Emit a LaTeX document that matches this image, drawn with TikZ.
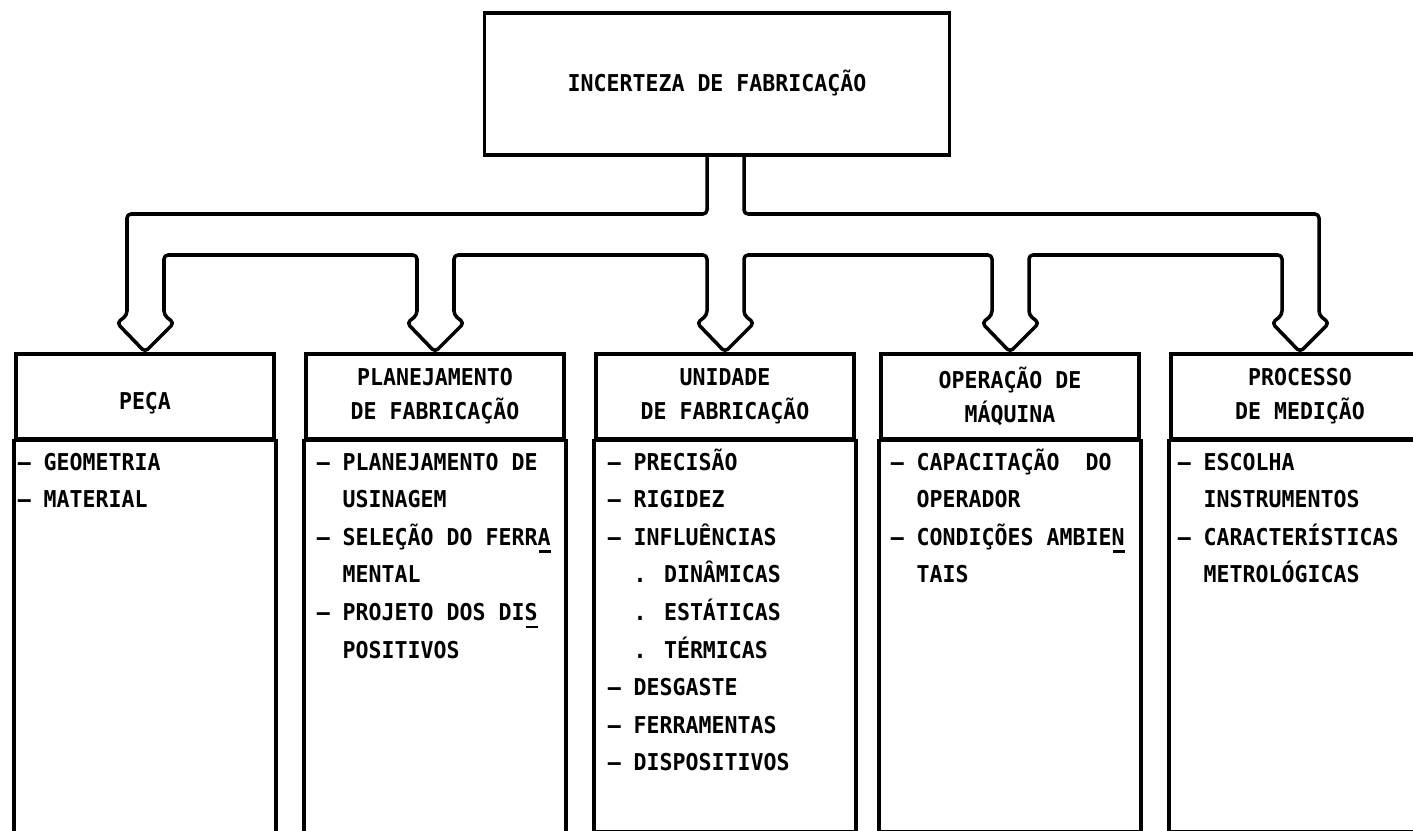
\documentclass[tikz,border=0pt]{standalone}
\usepackage{fontspec}
\usetikzlibrary{calc}
\newfontfamily\letra{DejaVu Sans Mono}[FakeStretch=0.93]
\newcommand\recuo{\hphantom{–\ }}
\newcommand\hifen[1]{\rlap{\hspace{0.06em}\rule[-4.5pt]{0.5em}{1.5pt}}#1}

\begin{document}
\begin{tikzpicture}[x=0.2mm, y=-0.2mm, line width=2pt,
    texto/.style={font=\letra\bfseries\fontsize{13.2pt}{19.3pt}\selectfont},
    caixa/.style={texto, draw, anchor=north, align=center, inner sep=0pt, minimum width=51.6mm, minimum height=17mm,
        execute at begin node=\rule{0pt}{17.5pt}},
    item/.style={texto, anchor=base west, inner sep=0pt},
    tubo/.style={line join=round, rounded corners=0.8mm},
    seta/.style={insert path={-- ($(#1.north)+(-18,-37)$) -- ($(#1.north)+(-28,-29)$) -- (#1.north)
        -- ($(#1.north)+(29,-29)$) -- ($(#1.north)+(19,-37)$)}}]
    \clip (0,0) rectangle (1413,831);
    \fill[white] (0,0) rectangle (1413,831);

    \node[caixa, anchor=center, minimum width=93mm, minimum height=28.4mm,
        execute at begin node={\rule[-9.5pt]{0pt}{1pt}}] (topo) at (717,84) {INCERTEZA DE FABRICAÇÃO};

    \node[caixa] (peca) at (145,352) {PEÇA};
    \node[caixa] (plan) at (435,352) {PLANEJAMENTO\\DE FABRICAÇÃO};
    \node[caixa] (unid) at (725,352) {UNIDADE\\DE FABRICAÇÃO};
    \node[caixa] (oper) at (1010,352) {OPERAÇÃO DE\\MÁQUINA};
    \node[caixa] (proc) at (1300,352) {PROCESSO\\DE MEDIÇÃO};

    \draw (peca.south west) rectangle ($(peca.south east)+(0,420)$);
    \draw (plan.south west) rectangle ($(plan.south east)+(0,420)$);
    \draw (unid.south west) rectangle ($(unid.south east)+(0,391)$);
    \draw (oper.south west) rectangle ($(oper.south east)+(0,391)$);
    \draw (proc.south west) rectangle ($(proc.south east)+(0,391)$);

    % seta dupla
    \coordinate (hE) at ($(unid.north)+(-18,0)$);
    \coordinate (hD) at ($(unid.north)+(19,0)$);
    \draw[tubo] (hE |- topo.south) |- ($(peca.north)+(-18,-138)$) [seta=peca]
        |- ($(plan.north)+(-18,-97)$) [seta=plan]
        |- ($(unid.north)+(-18,-97)$) [seta=unid]
        |- ($(oper.north)+(-18,-97)$) [seta=oper]
        |- ($(proc.north)+(-18,-97)$) [seta=proc]
        |- ($(hD)+(0,-138)$) -- (hD |- topo.south);

    % itens
    \foreach \t [count=\i] in {– GEOMETRIA, – MATERIAL}
        \node[item] (peca-\i) at (16,{470+37.6*(\i-1)}) {\t};
    \foreach \t [count=\i] in {– PLANEJAMENTO DE, \recuo USINAGEM, – SELEÇÃO DO FERR\hifen{A},
            \recuo MENTAL, – PROJETO DOS DI\hifen{S}, \recuo POSITIVOS}
        \node[item] (plan-\i) at (315,{470+37.6*(\i-1)}) {\t};
    \foreach \t [count=\i] in {– PRECISÃO, – RIGIDEZ, – INFLUÊNCIAS, \recuo. DINÂMICAS,
            \recuo. ESTÁTICAS, \recuo. TÉRMICAS, – DESGASTE, – FERRAMENTAS, – DISPOSITIVOS}
        \node[item] (unid-\i) at (606,{470+37.6*(\i-1)}) {\t};
    \foreach \t [count=\i] in {– CAPACITAÇÃO\ \ DO, \recuo OPERADOR, – CONDIÇÕES AMBIE\hifen{N}, \recuo TAIS}
        \node[item] (oper-\i) at (889,{470+37.6*(\i-1)}) {\t};
    \foreach \t [count=\i] in {– ESCOLHA, \recuo INSTRUMENTOS, – CARACTERÍSTICAS, \recuo METROLÓGICAS}
        \node[item] (proc-\i) at (1176,{470+37.6*(\i-1)}) {\t};
\end{tikzpicture}
\end{document}
